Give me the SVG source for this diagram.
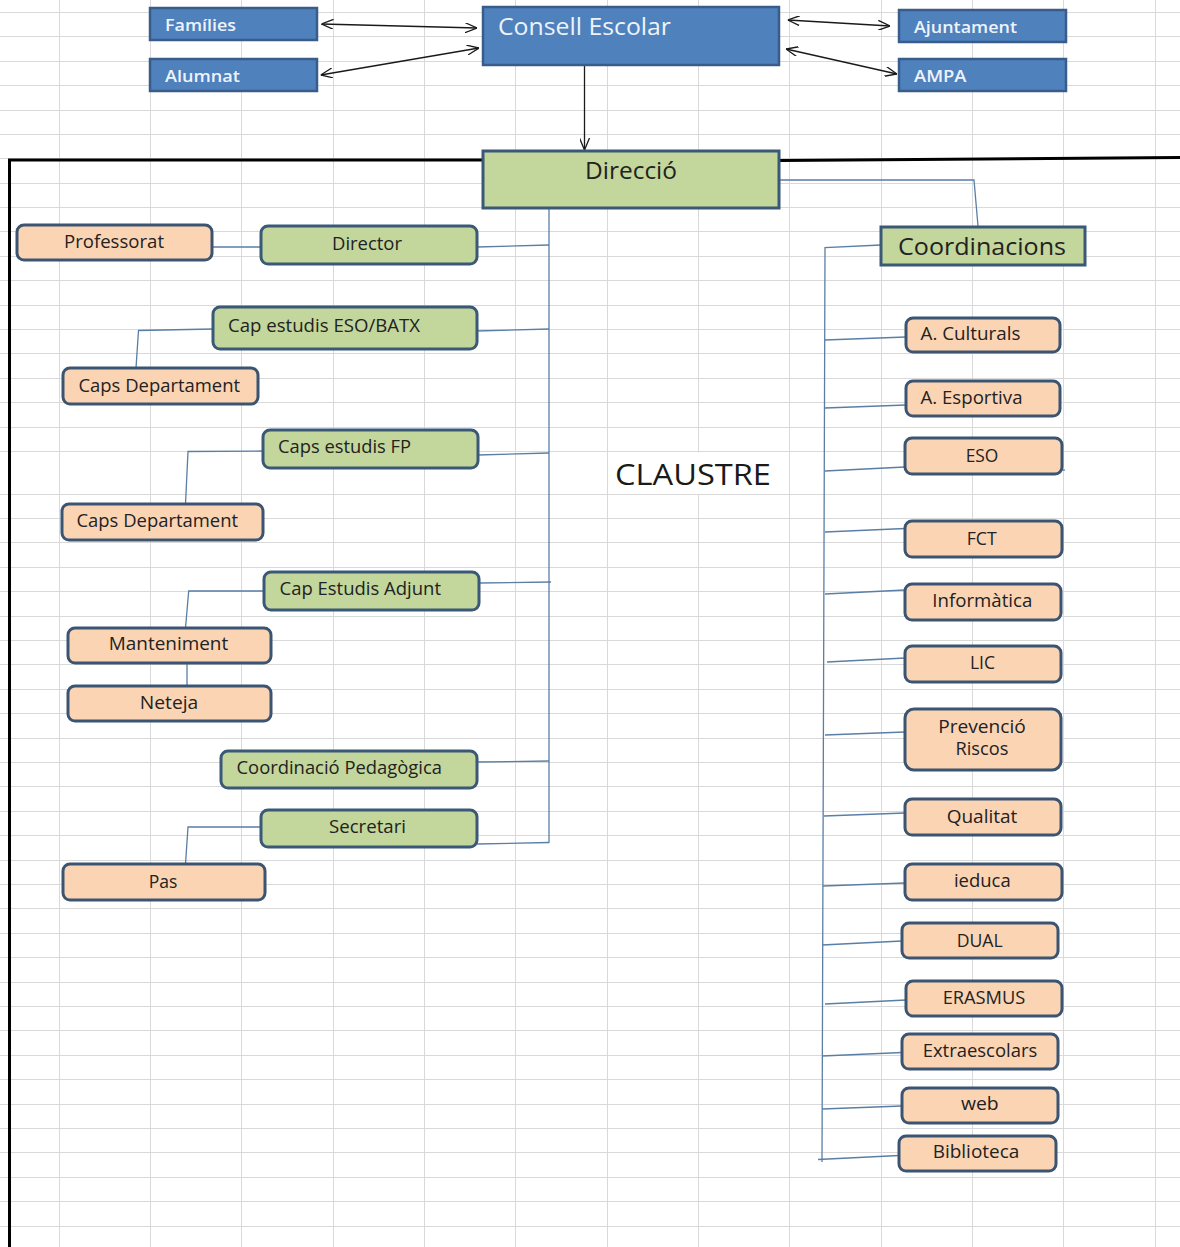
<svg xmlns="http://www.w3.org/2000/svg" width="1180" height="1247" viewBox="0 0 1180 1247">
<style>
.grid{stroke:#d9d9d9;stroke-width:1;fill:none}
.blue{fill:#4f81bd;stroke:#385d8a;stroke-width:2.5}
.green{fill:#c3d69b;stroke:#3a5877;stroke-width:3}
.peach{fill:#fbd4b4;stroke:#3a5472;stroke-width:3}
.conn{stroke:#5a7ea6;stroke-width:1.3;fill:none}
.arr{stroke:#1a1a1a;stroke-width:1.3;fill:none}
.frame{stroke:#000;stroke-width:3;fill:none}
text{font-family:"Open Sans","Liberation Sans",sans-serif;font-size:18px;fill:#222}
.tw{fill:#eef3fa;font-size:16.5px;font-weight:600}
.big{font-size:24px}
.c{text-anchor:middle}
</style>
<defs>
<marker id="chev" viewBox="0 0 12 10" refX="12" refY="5" markerWidth="12" markerHeight="10" markerUnits="userSpaceOnUse" orient="auto-start-reverse">
<path d="M0,0 L12,5 L0,10" fill="none" stroke="#1a1a1a" stroke-width="1.3"/>
</marker>
</defs>
<rect width="1180" height="1247" fill="#fff"/>
<g id="grid" class="grid">
<path d="M59.5,0V1247M150.5,0V1247M241.5,0V1247M333.5,0V1247M424.5,0V1247M515.5,0V1247M607.5,0V1247M698.5,0V1247M789.5,0V1247M881.5,0V1247M972.5,0V1247M1063.5,0V1247M1155.5,0V1247"/>
<path d="M0,12.5H1180M0,36.5H1180M0,61.5H1180M0,85.5H1180M0,110.5H1180M0,134.5H1180M0,158.5H1180M0,183.5H1180M0,207.5H1180M0,231.5H1180M0,256.5H1180M0,280.5H1180M0,305.5H1180M0,329.5H1180M0,353.5H1180M0,378.5H1180M0,402.5H1180M0,427.5H1180M0,451.5H1180M0,494.5H1180M0,518.5H1180M0,542.5H1180M0,567.5H1180M0,591.5H1180M0,616.5H1180M0,640.5H1180M0,664.5H1180M0,689.5H1180M0,713.5H1180M0,738.5H1180M0,762.5H1180M0,786.5H1180M0,811.5H1180M0,835.5H1180M0,860.5H1180M0,884.5H1180M0,908.5H1180M0,933.5H1180M0,957.5H1180M0,982.5H1180M0,1006.5H1180M0,1030.5H1180M0,1055.5H1180M0,1079.5H1180M0,1104.5H1180M0,1128.5H1180M0,1152.5H1180M0,1177.5H1180M0,1201.5H1180M0,1226.5H1180"/>
<rect x="608.5" y="452.5" width="180.5" height="41.5" fill="#fff" stroke="none"/>
</g>
<g id="frame" class="frame">
<path d="M9.5,1247 L9.5,160 L483,160"/>
<path d="M780,160.5 L1180,157.5"/>
</g>
<g id="connectors">
<path class="arr" d="M321.5,24 L477,28" marker-start="url(#chev)" marker-end="url(#chev)"/>
<path class="arr" d="M320.7,75 L479,48" marker-start="url(#chev)" marker-end="url(#chev)"/>
<path class="arr" d="M787.8,20 L890,26" marker-start="url(#chev)" marker-end="url(#chev)"/>
<path class="arr" d="M786,49 L897,74" marker-start="url(#chev)" marker-end="url(#chev)"/>
<path class="arr" d="M584.5,66 L584.5,150" marker-end="url(#chev)"/>
<path class="conn" d="M780,180 L974,180 L978,226"/>
<path class="conn" d="M881,245 L825,247.5 L822,1162"/>
<path class="conn" d="M825,340 L906,337"/>
<path class="conn" d="M825,408 L906,405"/>
<path class="conn" d="M825,471 L905,467"/>
<path class="conn" d="M1062,470 L1065,470"/>
<path class="conn" d="M825,532 L905,528.5"/>
<path class="conn" d="M825,594 L905,590"/>
<path class="conn" d="M827,662 L905,658"/>
<path class="conn" d="M825,735 L905,732"/>
<path class="conn" d="M824,816 L905,813"/>
<path class="conn" d="M823,886 L905,883"/>
<path class="conn" d="M822,945 L902,941"/>
<path class="conn" d="M825,1004 L906,1000"/>
<path class="conn" d="M822,1056 L902,1052.5"/>
<path class="conn" d="M822,1109 L902,1106"/>
<path class="conn" d="M818,1159.5 L899,1155.5"/>
<path class="conn" d="M549,208 L549,843"/>
<path class="conn" d="M477,247 L549,245"/>
<path class="conn" d="M212,247 L261,247"/>
<path class="conn" d="M477,331 L549,329"/>
<path class="conn" d="M213,329 L138.5,330.5 L136,368"/>
<path class="conn" d="M478,455 L549,453"/>
<path class="conn" d="M263,451 L188,451.5 L185.5,504"/>
<path class="conn" d="M479,583 L551,582"/>
<path class="conn" d="M264,591 L188.7,591 L185.5,628"/>
<path class="conn" d="M187,663 L187,686"/>
<path class="conn" d="M477,762 L549,761"/>
<path class="conn" d="M477,844 L549,842.5"/>
<path class="conn" d="M261,827 L188,827 L185.5,864"/>
</g>
<g id="n-families"><rect class="blue" x="150" y="8" width="167" height="32"/><text class="tw" x="165" y="31" textLength="71" lengthAdjust="spacingAndGlyphs">Famílies</text></g>
<g id="n-alumnat"><rect class="blue" x="150" y="59" width="167" height="32"/><text class="tw" x="165" y="82" textLength="75" lengthAdjust="spacingAndGlyphs">Alumnat</text></g>
<g id="n-consell"><rect class="blue" x="483" y="7" width="296" height="58"/><text class="tw" x="498" y="35" style="font-size:24px;font-weight:400" textLength="173" lengthAdjust="spacingAndGlyphs">Consell Escolar</text></g>
<g id="n-ajuntament"><rect class="blue" x="899" y="10" width="167" height="32"/><text class="tw" x="914" y="33" textLength="103" lengthAdjust="spacingAndGlyphs">Ajuntament</text></g>
<g id="n-ampa"><rect class="blue" x="899" y="59" width="167" height="32"/><text class="tw" x="914" y="82" textLength="52.5" lengthAdjust="spacingAndGlyphs">AMPA</text></g>
<g id="n-direccio"><rect class="green" x="483" y="151" width="296" height="57"/><text x="585" y="179" style="font-size:23px" textLength="92" lengthAdjust="spacingAndGlyphs">Direcció</text></g>
<g id="n-coordinacions"><rect class="green" x="881" y="227" width="204" height="38"/><text class="big" x="898" y="255" textLength="168" lengthAdjust="spacingAndGlyphs">Coordinacions</text></g>
<g id="n-professorat"><rect class="peach" x="17" y="225" width="195" height="35" rx="7"/><text class="c" x="114" y="248" textLength="100" lengthAdjust="spacingAndGlyphs">Professorat</text></g>
<g id="n-director"><rect class="green" x="261" y="226" width="216" height="38" rx="7"/><text class="c" x="367" y="250" textLength="70" lengthAdjust="spacingAndGlyphs">Director</text></g>
<g id="n-capeso"><rect class="green" x="213" y="307" width="264" height="42" rx="7"/><text x="228" y="332" textLength="192" lengthAdjust="spacingAndGlyphs">Cap estudis ESO/BATX</text></g>
<g id="n-capsdep1"><rect class="peach" x="63" y="368" width="195" height="36" rx="7"/><text x="78.5" y="392" textLength="161.5" lengthAdjust="spacingAndGlyphs">Caps Departament</text></g>
<g id="n-capfp"><rect class="green" x="263" y="430" width="215" height="38" rx="7"/><text x="278" y="453" textLength="133" lengthAdjust="spacingAndGlyphs">Caps estudis FP</text></g>
<g id="n-capsdep2"><rect class="peach" x="62" y="504" width="201" height="36" rx="7"/><text x="76.5" y="527" textLength="161.5" lengthAdjust="spacingAndGlyphs">Caps Departament</text></g>
<g id="n-adjunt"><rect class="green" x="264" y="572" width="215" height="38" rx="7"/><text x="279.5" y="595" textLength="161.5" lengthAdjust="spacingAndGlyphs">Cap Estudis Adjunt</text></g>
<g id="n-manteniment"><rect class="peach" x="68" y="628" width="203" height="35" rx="7"/><text class="c" x="168.5" y="650" textLength="119.5" lengthAdjust="spacingAndGlyphs">Manteniment</text></g>
<g id="n-neteja"><rect class="peach" x="68" y="686" width="203" height="35" rx="7"/><text class="c" x="169" y="709" textLength="58.5" lengthAdjust="spacingAndGlyphs">Neteja</text></g>
<g id="n-coordped"><rect class="green" x="221" y="751" width="256" height="37" rx="7"/><text x="236.5" y="774" textLength="205.5" lengthAdjust="spacingAndGlyphs">Coordinació Pedagògica</text></g>
<g id="n-secretari"><rect class="green" x="261" y="810" width="216" height="37" rx="7"/><text class="c" x="367.5" y="833" textLength="77" lengthAdjust="spacingAndGlyphs">Secretari</text></g>
<g id="n-pas"><rect class="peach" x="63" y="864" width="202" height="36" rx="7"/><text class="c" x="163" y="888" textLength="28.7" lengthAdjust="spacingAndGlyphs">Pas</text></g>
<g id="n-claustre"><text x="615" y="485" style="font-size:29px;fill:#1a1a1a" textLength="156" lengthAdjust="spacingAndGlyphs">CLAUSTRE</text></g>
<g id="n-aculturals"><rect class="peach" x="906" y="318" width="154" height="34" rx="7"/><text x="920.5" y="340" textLength="100" lengthAdjust="spacingAndGlyphs">A. Culturals</text></g>
<g id="n-aesportiva"><rect class="peach" x="906" y="381" width="154" height="35" rx="7"/><text x="920.5" y="404" textLength="102" lengthAdjust="spacingAndGlyphs">A. Esportiva</text></g>
<g id="n-eso"><rect class="peach" x="905" y="438" width="157" height="36" rx="7"/><text class="c" x="982" y="462" textLength="32.7" lengthAdjust="spacingAndGlyphs">ESO</text></g>
<g id="n-fct"><rect class="peach" x="905" y="521" width="157" height="36" rx="7"/><text class="c" x="981.7" y="545" textLength="30" lengthAdjust="spacingAndGlyphs">FCT</text></g>
<g id="n-informatica"><rect class="peach" x="905" y="584" width="156" height="36" rx="7"/><text class="c" x="982.3" y="607" textLength="100" lengthAdjust="spacingAndGlyphs">Informàtica</text></g>
<g id="n-lic"><rect class="peach" x="905" y="646" width="156" height="36" rx="7"/><text class="c" x="982.5" y="669" textLength="25" lengthAdjust="spacingAndGlyphs">LIC</text></g>
<g id="n-prevencio"><rect class="peach" x="905" y="709" width="156" height="61" rx="9"/><text class="c" x="982" y="733" textLength="87.7" lengthAdjust="spacingAndGlyphs">Prevenció</text><text class="c" x="982" y="755" textLength="53" lengthAdjust="spacingAndGlyphs">Riscos</text></g>
<g id="n-qualitat"><rect class="peach" x="905" y="799" width="156" height="36" rx="7"/><text class="c" x="982" y="823" textLength="70.7" lengthAdjust="spacingAndGlyphs">Qualitat</text></g>
<g id="n-ieduca"><rect class="peach" x="905" y="864" width="157" height="36" rx="7"/><text class="c" x="982.3" y="887" textLength="56.7" lengthAdjust="spacingAndGlyphs">ieduca</text></g>
<g id="n-dual"><rect class="peach" x="902" y="923" width="156" height="35" rx="7"/><text class="c" x="979.7" y="947" textLength="46" lengthAdjust="spacingAndGlyphs">DUAL</text></g>
<g id="n-erasmus"><rect class="peach" x="906" y="981" width="156" height="35" rx="7"/><text class="c" x="984" y="1004" textLength="82.7" lengthAdjust="spacingAndGlyphs">ERASMUS</text></g>
<g id="n-extraescolars"><rect class="peach" x="902" y="1034" width="156" height="35" rx="7"/><text class="c" x="980" y="1057" textLength="114.6" lengthAdjust="spacingAndGlyphs">Extraescolars</text></g>
<g id="n-web"><rect class="peach" x="902" y="1088" width="156" height="35" rx="7"/><text class="c" x="979.8" y="1110" textLength="37.7" lengthAdjust="spacingAndGlyphs">web</text></g>
<g id="n-biblioteca"><rect class="peach" x="899" y="1136" width="157" height="35" rx="7"/><text class="c" x="976" y="1158" textLength="86.7" lengthAdjust="spacingAndGlyphs">Biblioteca</text></g>
</svg>
